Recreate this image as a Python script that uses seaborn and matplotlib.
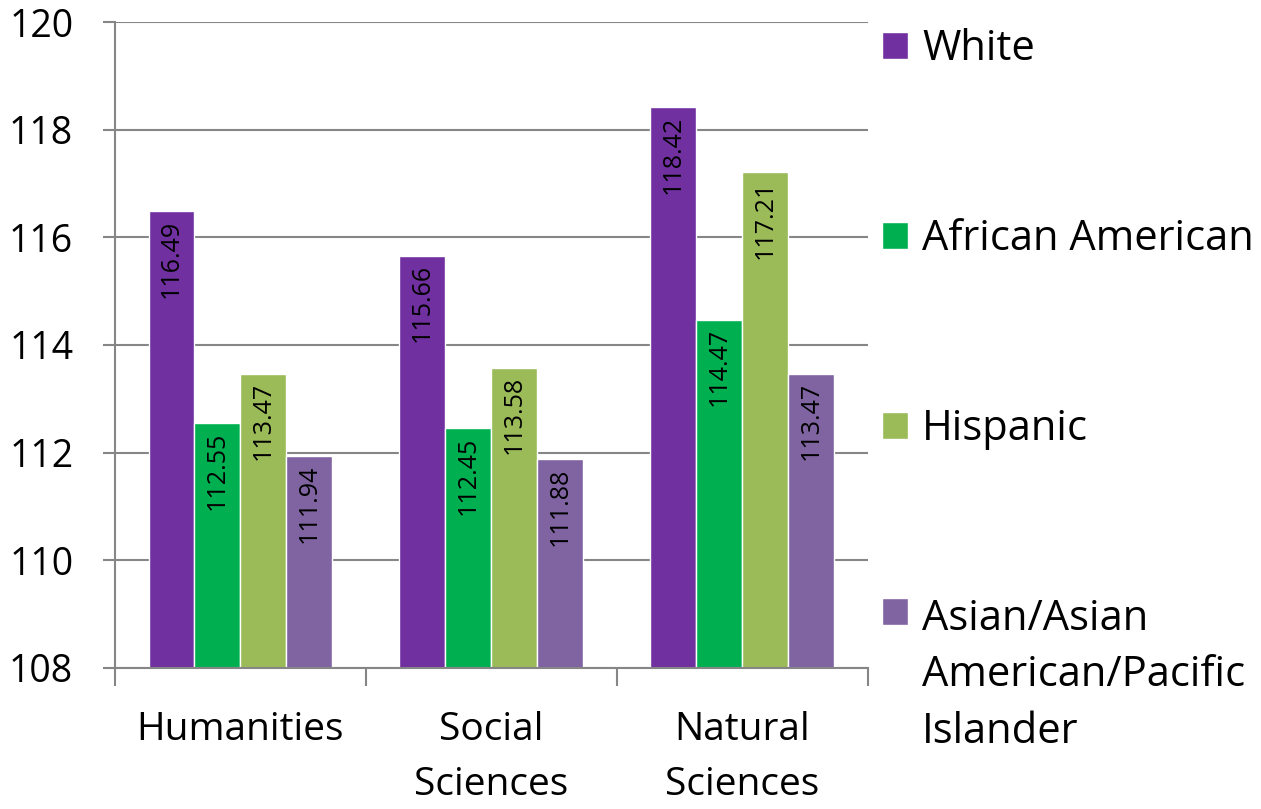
import numpy as np
import pandas as pd
import matplotlib
matplotlib.use("Agg")
import matplotlib.pyplot as plt
import seaborn as sns

# data
fields = ["Humanities", "Social\nSciences", "Natural\nSciences"]
groups = ["White", "African American", "Hispanic", "Asian/Asian American/Pacific Islander"]
white = [116.49, 115.66, 118.42]
african_american = [112.55, 112.45, 114.47]
hispanic = [113.47, 113.58, 117.21]
asian = [111.94, 111.88, 113.47]
yticks = [108, 110, 112, 114, 116, 118, 120]

colors = ["#7030A0", "#00B050", "#9BBB59", "#8064A2"]
legend_labels = ["White", "African American", "Hispanic", "Asian/Asian\nAmerican/Pacific\nIslander"]

rows = []
for g, vals in zip(groups, [white, african_american, hispanic, asian]):
    for f, v in zip(fields, vals):
        rows.append({"field": f, "group": g, "score": v})
df = pd.DataFrame(rows)

sns.set_style("white")
plt.rcParams["font.family"] = ["Open Sans", "DejaVu Sans"]
plt.rcParams["text.color"] = "black"
gray = "#868686"

fig = plt.figure(figsize=(12.61, 8.09), dpi=100)
ax = fig.add_axes([0.0912, 0.1743, 0.597, 0.7985])

sns.barplot(data=df, x="field", y="score", hue="group", order=fields, hue_order=groups,
            palette=colors, saturation=1, width=0.733, ax=ax, zorder=2)

ax.set_ylim(108, 120)
ax.set_yticks(yticks)
ax.set_xlim(-0.5, 2.5)
ax.set_xlabel("")
ax.set_ylabel("")

# value labels, rotated, inside the top of each bar
for cont in ax.containers:
    anns = ax.bar_label(cont, fmt="%.2f", padding=-6, rotation=90, fontsize=18, color="black")
    for a in anns:
        a.set_va("top")

ax.yaxis.grid(True, color=gray, lw=1.5, zorder=0)
ax.set_axisbelow(True)
for s in ["top", "right"]:
    ax.spines[s].set_visible(False)
for s in ["left", "bottom"]:
    ax.spines[s].set_color(gray)
    ax.spines[s].set_linewidth(1.5)

ax.tick_params(axis="y", which="major", length=9, width=1.5, color=gray, pad=21,
               labelsize=27, labelcolor="black", direction="out", left=True)
ax.tick_params(axis="x", which="major", length=0, pad=31, labelsize=28, labelcolor="black")
ax.set_xticks([-0.5, 0.5, 1.5, 2.5], minor=True)
ax.tick_params(axis="x", which="minor", length=13, width=1.5, color=gray, direction="out", bottom=True)
for t in ax.get_xticklabels():
    t.set_linespacing(1.58)
    t.set_va("top")

handles, _ = ax.get_legend_handles_labels()
leg = ax.legend(handles, legend_labels, loc="upper left",
                bbox_to_anchor=(882 / 1261, 0.9654), bbox_transform=fig.transFigure,
                frameon=False, prop={"family": "Open Sans", "size": 30},
                handlelength=0.62, handleheight=0.62, handletextpad=0.34,
                labelspacing=3.55, borderaxespad=0, borderpad=0, labelcolor="black")
for t in leg.get_texts():
    t.set_linespacing(1.45)
# put the swatch of the multi-line entry next to its first line
entries = leg._legend_handle_box.get_children()[0].get_children()
entries[-1].align = "top"

fig.savefig("out.png", dpi=100)
